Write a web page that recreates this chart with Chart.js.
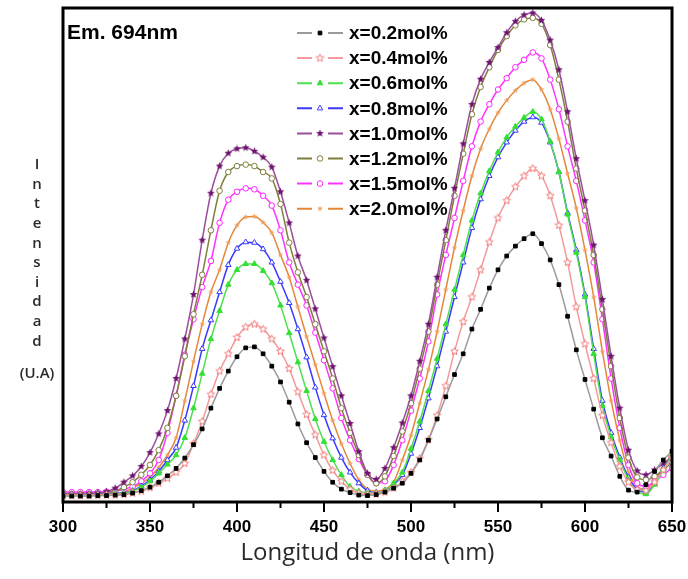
<!DOCTYPE html>
<html>
<head>
<meta charset="utf-8">
<script src="https://cdn.jsdelivr.net/npm/chart.js@4.4.0/dist/chart.umd.min.js"></script>
<style>
html, body { margin: 0; padding: 0; background: #fff; }
</style>
</head>
<body>
<canvas id="spectrum" width="688" height="579"></canvas>
<script>
// excitation spectra, emission monitored at 694 nm
const wavelength = [300,305,310,315,320,325,330,335,340,345,350,355,360,365,370,375,380,385,390,395,
  400,405,410,415,420,425,430,435,440,445,450,455,460,465,470,475,480,485,490,495,
  500,505,510,515,520,525,530,535,540,545,550,555,560,565,570,575,580,585,590,595,
  600,605,610,615,620,625,630,635,640,645,650];

const x02 = [1.2,1.2,1.2,1.2,1.3,1.3,1.4,1.5,1.8,2.3,3.0,4.0,5.3,6.8,8.9,11.6,14.8,19.0,23.0,26.5,
  29.4,31.2,31.4,30.0,27.5,24.3,20.2,15.8,12.0,9.0,6.2,4.0,2.6,1.9,1.4,1.3,1.5,2.0,2.8,3.8,
  5.8,8.5,12.5,16.8,21.3,25.8,30.0,35.0,39.0,43.3,47.0,49.8,51.8,53.3,54.3,52.3,49.0,44.0,37.6,30.8,
  24.8,18.8,13.0,9.3,5.2,2.4,2.0,3.5,6.2,8.5,10.3];
const x04 = [1.3,1.3,1.3,1.3,1.3,1.4,1.4,1.5,1.8,2.2,2.9,3.8,4.8,6.0,7.8,11.8,16.3,21.8,26.5,30.0,
  33.3,35.4,36.0,35.0,33.0,30.5,27.0,22.3,17.7,13.6,9.5,6.4,4.2,2.6,1.8,1.5,1.6,2.0,2.8,4.2,
  6.0,8.8,12.6,17.5,23.5,30.5,36.5,41.5,47.0,52.6,57.5,61.0,63.8,66.0,67.5,66.0,62.0,56.0,48.5,39.5,
  32.0,25.0,17.5,12.0,7.2,4.0,2.5,2.3,4.0,6.5,9.0];
const x06 = [1.4,1.4,1.4,1.4,1.4,1.5,1.6,1.8,2.2,3.0,4.2,5.8,7.6,9.5,13.0,19.0,26.0,33.0,38.7,44.0,
  47.0,48.2,48.2,46.8,44.3,39.8,34.2,28.3,22.5,16.8,12.2,8.5,5.5,3.1,2.2,1.8,1.8,2.3,3.8,6.0,
  10.8,16.3,22.5,29.0,36.0,43.0,50.0,57.0,62.5,67.0,70.8,73.8,76.0,77.8,79.0,77.5,73.0,66.8,58.2,50.5,
  41.5,30.0,19.5,13.2,8.5,4.5,2.2,1.6,3.5,6.5,9.5];
const x08 = [1.5,1.5,1.5,1.5,1.5,1.6,1.7,1.9,2.3,3.2,4.5,6.2,8.5,11.0,16.5,23.5,31.0,36.8,42.5,48.0,
  51.3,52.6,52.5,51.2,48.5,44.6,40.3,35.0,29.3,23.2,17.6,12.9,9.0,6.0,3.8,2.3,1.9,2.3,3.5,5.5,
  9.8,15.0,21.0,27.5,34.5,41.5,48.5,55.5,61.3,66.0,69.8,72.8,75.2,77.0,77.9,76.8,72.8,66.8,58.5,51.0,
  42.0,31.0,20.5,14.0,9.0,5.0,2.6,2.0,3.8,6.8,9.5];
const x10 = [1.6,1.6,1.6,1.7,1.8,2.1,2.8,4.0,5.3,7.2,10.0,13.8,18.5,25.0,33.0,42.0,53.0,62.5,68.0,70.6,
  71.5,71.7,71.0,69.8,67.8,62.8,56.5,49.8,44.9,39.1,33.2,27.4,21.5,15.9,10.2,5.8,4.6,6.8,11.0,16.0,
  21.5,28.5,36.0,45.5,55.0,63.5,72.5,80.5,85.6,89.0,92.0,95.0,97.3,98.6,99.0,97.5,93.5,87.5,79.0,69.5,
  61.0,52.0,41.0,29.5,19.0,10.5,6.3,5.5,6.5,7.8,9.0];
const x12 = [1.6,1.6,1.6,1.6,1.7,1.8,2.2,3.0,4.0,5.5,7.5,10.5,15.0,21.5,29.5,38.0,46.0,55.0,63.0,66.8,
  68.0,68.3,68.0,66.8,65.5,60.3,52.5,46.5,41.5,36.0,30.5,25.0,19.0,14.0,9.5,5.5,3.8,5.2,9.3,14.3,
  20.0,27.0,34.5,44.0,53.0,62.0,70.5,78.5,84.0,88.0,91.5,94.3,96.5,97.7,98.0,96.8,92.5,85.5,77.0,67.5,
  59.0,50.0,39.0,27.5,17.0,9.0,5.0,4.5,5.2,6.5,8.0];
const x15 = [2.0,2.0,2.0,2.0,2.0,2.1,2.3,2.6,3.1,4.2,5.8,8.5,14.0,21.5,29.8,37.0,43.5,48.8,56.5,61.2,
  62.8,63.5,63.3,62.0,60.0,55.0,48.5,44.0,39.8,34.3,28.7,23.0,17.0,12.5,8.7,5.5,3.8,4.2,7.5,12.5,
  18.5,25.0,32.5,42.0,50.0,57.5,65.0,72.0,77.0,80.5,83.5,85.8,88.0,89.5,91.0,89.8,85.5,79.5,72.0,65.0,
  57.0,48.5,37.0,25.0,15.0,7.5,3.8,3.2,4.2,5.5,6.9];
const x20 = [1.3,1.3,1.3,1.3,1.4,1.4,1.5,2.0,2.8,3.8,5.0,7.0,9.5,13.0,20.5,28.5,36.0,42.5,47.0,52.5,
  56.0,57.7,57.8,56.6,54.5,50.0,45.5,39.5,33.5,27.8,22.0,16.5,11.8,7.8,4.5,2.6,2.2,2.6,4.0,8.5,
  13.5,20.0,26.8,34.5,43.0,51.5,59.0,66.0,71.5,75.5,78.8,81.3,83.3,84.8,85.5,83.5,79.5,73.5,66.5,59.5,
  51.0,41.5,30.5,20.5,12.5,6.0,3.2,2.5,4.5,7.0,9.8];

const seriesNames = ["x=0.2mol%","x=0.4mol%","x=0.6mol%","x=0.8mol%","x=1.0mol%","x=1.2mol%","x=1.5mol%","x=2.0mol%"];
const xTicks = [300,350,400,450,500,550,600,650];

// pentagram markers drawn into small canvases
function starMarker(color, filled, r) {
  const c = document.createElement("canvas");
  const s = Math.ceil(r * 2 + 3);
  c.width = s; c.height = s;
  const g = c.getContext("2d");
  g.beginPath();
  for (let k = 0; k < 10; k++) {
    const rr = k % 2 === 0 ? r : r * 0.45;
    const a = -Math.PI / 2 + k * Math.PI / 5;
    const px = s / 2 + rr * Math.cos(a), py = s / 2 + rr * Math.sin(a);
    k === 0 ? g.moveTo(px, py) : g.lineTo(px, py);
  }
  g.closePath();
  if (filled) { g.fillStyle = color; g.fill(); }
  else { g.fillStyle = "#fff"; g.fill(); g.strokeStyle = color; g.lineWidth = 1; g.stroke(); }
  return c;
}

const styles = [
  {line:"#9a9a9a", mark:"#000000", fill:"#000000", point:"rect", r:2.6},
  {line:"#f49a9a", mark:"#f07a7a", fill:"#fff", point:starMarker("#f07a7a", false, 4), r:4},
  {line:"#4fe04f", mark:"#33e033", fill:"#33e033", point:"triangle", r:3.2},
  {line:"#3a3aff", mark:"#3a3aff", fill:"#fff", point:"triangle", r:3.2},
  {line:"#9b4f9b", mark:"#6e146e", fill:"#6e146e", point:starMarker("#6e146e", true, 4), r:4},
  {line:"#7f7f3c", mark:"#7f7f3c", fill:"#fff", point:"circle", r:2.8},
  {line:"#ff33ff", mark:"#ff22ff", fill:"#fff", point:"circle", r:2.8},
  {line:"#e3883a", mark:"#f0a060", fill:"#f0a060", point:starMarker("#f0a060", true, 3), r:3}
];

const values = [x02, x04, x06, x08, x10, x12, x15, x20];

const datasets = values.map((vals, i) => ({
  label: seriesNames[i],
  data: vals.map((v, j) => ({x: wavelength[j], y: v})),
  borderColor: styles[i].line,
  borderWidth: 1.5,
  pointStyle: styles[i].point,
  pointRadius: styles[i].r,
  pointBorderColor: styles[i].mark,
  pointBackgroundColor: styles[i].fill,
  pointBorderWidth: 1,
  cubicInterpolationMode: "monotone",
  fill: false
}));

const boldFont = '"Liberation Sans", Arial, sans-serif';

const decorPlugin = {
  id: "decor",
  afterDraw(chart) {
    const {ctx, chartArea: a, scales: {x}} = chart;
    ctx.save();
    // frame
    ctx.strokeStyle = "#000";
    ctx.lineWidth = 3;
    ctx.strokeRect(a.left, a.top, a.right - a.left, a.bottom - a.top);
    // major and minor ticks, outward
    ctx.lineWidth = 2;
    for (let v = x.min; v <= x.max; v += 25) {
      const px = x.getPixelForValue(v);
      const len = v % 50 === 0 ? 10 : 6;
      ctx.beginPath();
      ctx.moveTo(px, a.bottom);
      ctx.lineTo(px, a.bottom + len);
      ctx.stroke();
    }
    // inner label
    ctx.fillStyle = "#000";
    ctx.font = "bold 21px " + boldFont;
    ctx.textBaseline = "middle";
    ctx.textAlign = "left";
    ctx.fillText("Em. 694nm", a.left + 4, 33);
    // legend
    chart.data.datasets.forEach((ds, i) => {
      const y = 33 + i * 25.1;
      const x0 = 297;
      ctx.strokeStyle = ds.borderColor;
      ctx.lineWidth = 2;
      ctx.beginPath();
      ctx.moveTo(x0, y); ctx.lineTo(x0 + 15, y);
      ctx.moveTo(x0 + 31, y); ctx.lineTo(x0 + 46, y);
      ctx.stroke();
      ctx.fillStyle = ds.pointBackgroundColor;
      ctx.strokeStyle = ds.pointBorderColor;
      ctx.lineWidth = 1;
      Chart.helpers.drawPoint(ctx, {pointStyle: ds.pointStyle, radius: ds.pointRadius, borderWidth: 1, rotation: 0}, x0 + 23, y);
      ctx.fillStyle = "#000";
      ctx.font = "bold 19px " + boldFont;
      ctx.fillText(ds.label, 349, y + 1);
    });
    // axis titles
    ctx.fillStyle = "#2a2a2a";
    ctx.textAlign = "center";
    ctx.font = '24px "Open Sans", sans-serif';
    ctx.fillText("Longitud de onda (nm)", (a.left + a.right) / 2, 553);
    ctx.font = '600 15px "Open Sans", sans-serif';
    const word = "Intensidad";
    for (let k = 0; k < word.length; k++) {
      ctx.fillText(word[k], 37, 165 + k * 19.6);
    }
    ctx.fillText("(U.A)", 37, 374);
    ctx.restore();
  }
};

new Chart(document.getElementById("spectrum"), {
  type: "line",
  data: {datasets},
  options: {
    responsive: false,
    animation: false,
    devicePixelRatio: 1,
    layout: {padding: {top: 8, right: 16, left: 0, bottom: 0}},
    plugins: {legend: {display: false}, tooltip: {enabled: false}},
    scales: {
      x: {
        type: "linear",
        min: 300,
        max: 650,
        afterFit: s => { s.height = 77; s.paddingLeft = 0; s.paddingRight = 0; },
        afterBuildTicks: s => { s.ticks = xTicks.map(v => ({value: v})); },
        grid: {display: false, drawTicks: false},
        border: {display: false},
        ticks: {color: "#000", padding: 15, font: {family: boldFont, size: 17, weight: "bold"}, maxRotation: 0}
      },
      y: {
        min: 0,
        max: 100,
        afterFit: s => { s.width = 63; s.paddingTop = 0; s.paddingBottom = 0; },
        grid: {display: false, drawTicks: false},
        border: {display: false},
        ticks: {display: false}
      }
    }
  },
  plugins: [decorPlugin]
});
</script>
</body>
</html>
